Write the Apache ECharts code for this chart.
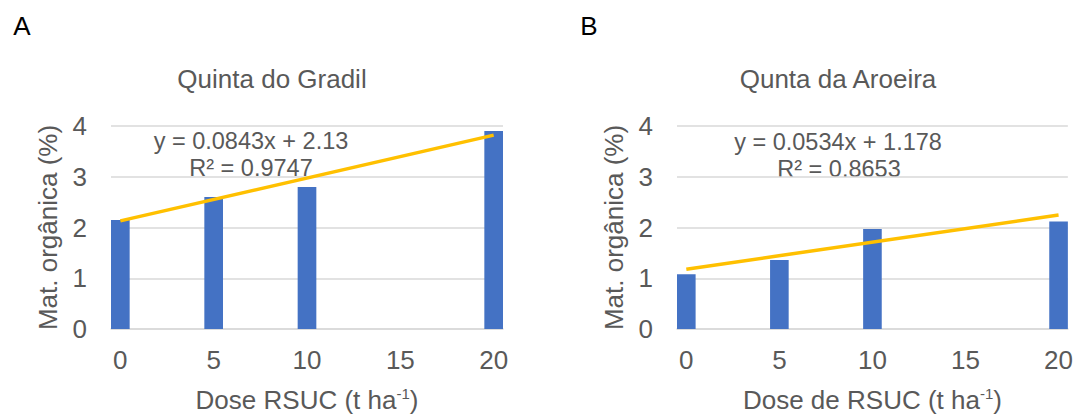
<!DOCTYPE html>
<html>
<head>
<meta charset="utf-8">
<script src="https://cdn.jsdelivr.net/npm/echarts@6/dist/echarts.min.js"></script>
<style>
  html, body { margin: 0; padding: 0; background: #ffffff; }
  #chart { width: 1076px; height: 414px; }
</style>
</head>
<body>
<div id="chart"></div>
<script>
// ---- data ----
const doseCategories = ['0','1','2','3','4','5','6','7','8','9','10','11','12','13','14','15','16','17','18','19','20'];
const xTickLabels = ['0', '5', '10', '15', '20'];
const doses = ['0', '5', '10', '20'];
const valuesGradil = [2.15, 2.6, 2.8, 3.9];
const valuesAroeira = [1.08, 1.36, 1.97, 2.12];
const trendDoses = ['0', '20'];
const trendGradil = [2.13, 3.82];
const trendAroeira = [1.178, 2.246];
const yTicks = [0, 1, 2, 3, 4];
const panelLetters = ['A', 'B'];
const panelTitles = ['Quinta do Gradil', 'Qunta da Aroeira'];
const equationsA = ['y = 0.0843x + 2.13', 'R² = 0.9747'];
const equationsB = ['y = 0.0534x + 1.178', 'R² = 0.8653'];
const yAxisName = 'Mat. orgânica (%)';
const xAxisNames = ['Dose RSUC (t ha', 'Dose de RSUC (t ha'];
const superscript = '-1';

// ---- styles ----
const FONT = "'Liberation Sans', Arial, sans-serif";
const GRAY = '#595959';
const GRID = '#D9D9D9';
const BAR = '#4472C4';
const TREND = '#FFC000';

const grids = [
  { left: 111, right: 573, top: 126, bottom: 84 },
  { left: 677, right: 7, top: 126, bottom: 84 }
];

function xAxis(i) {
  return {
    type: 'category',
    gridIndex: i,
    data: doseCategories,
    boundaryGap: true,
    axisLine: { show: true, lineStyle: { color: GRID, width: 1.5 } },
    axisTick: { show: false },
    axisLabel: {
      interval: 0,
      formatter: (v) => (xTickLabels.indexOf(v) >= 0 ? v : ''),
      color: GRAY, fontSize: 26, fontFamily: FONT, margin: 18
    },
    splitLine: { show: false },
    name: '{n|' + xAxisNames[i] + '}{s|' + superscript + '}{n|)}',
    nameLocation: 'middle',
    nameGap: 57,
    nameTextStyle: {
      rich: {
        n: { fontSize: 26, fontFamily: FONT, color: GRAY, lineHeight: 28 },
        s: { fontSize: 15, fontFamily: FONT, color: GRAY, lineHeight: 28, verticalAlign: 'top', padding: [0, 0, 8, 0] }
      }
    }
  };
}
function yAxis(i) {
  return {
    type: 'value',
    gridIndex: i,
    min: yTicks[0],
    max: yTicks[yTicks.length - 1],
    interval: 1,
    axisLine: { show: false },
    axisTick: { show: false },
    axisLabel: { color: GRAY, fontSize: 26, fontFamily: FONT, margin: 24 },
    splitLine: { lineStyle: { color: GRID, width: 1.5 } },
    name: yAxisName,
    nameLocation: 'middle',
    nameGap: 50,
    nameTextStyle: { color: GRAY, fontSize: 26, fontFamily: FONT }
  };
}
function barSeries(i, vals) {
  return {
    type: 'bar', xAxisIndex: i, yAxisIndex: i,
    data: doses.map((d, k) => [d, vals[k]]),
    barWidth: '100%',
    itemStyle: { color: BAR },
    silent: true, animation: false, z: 2
  };
}
function trendSeries(i, vals) {
  return {
    type: 'line', xAxisIndex: i, yAxisIndex: i,
    data: trendDoses.map((d, k) => [d, vals[k]]),
    symbol: 'none',
    lineStyle: { color: TREND, width: 3.5 },
    silent: true, animation: false, z: 3
  };
}
function txt(x, y, s, size, color) {
  return {
    type: 'text', x: x, y: y, silent: true,
    style: { text: s, fill: color || GRAY, font: size + 'px ' + FONT, textAlign: 'center', textVerticalAlign: 'middle' }
  };
}

const chart = echarts.init(document.getElementById('chart'), null, { renderer: 'svg' });
chart.setOption({
  backgroundColor: '#ffffff',
  animation: false,
  grid: grids,
  xAxis: [xAxis(0), xAxis(1)],
  yAxis: [yAxis(0), yAxis(1)],
  series: [
    barSeries(0, valuesGradil), trendSeries(0, trendGradil),
    barSeries(1, valuesAroeira), trendSeries(1, trendAroeira)
  ],
  graphic: [
    txt(22, 26, panelLetters[0], 26, '#000000'),
    txt(589, 26, panelLetters[1], 26, '#000000'),
    txt(272, 79, panelTitles[0], 26),
    txt(838, 79, panelTitles[1], 26),
    txt(251, 141, equationsA[0], 23.5),
    txt(251, 168, equationsA[1], 23.5),
    txt(838, 142, equationsB[0], 23.5),
    txt(839, 169, equationsB[1], 23.5)
  ]
});
</script>
</body>
</html>
